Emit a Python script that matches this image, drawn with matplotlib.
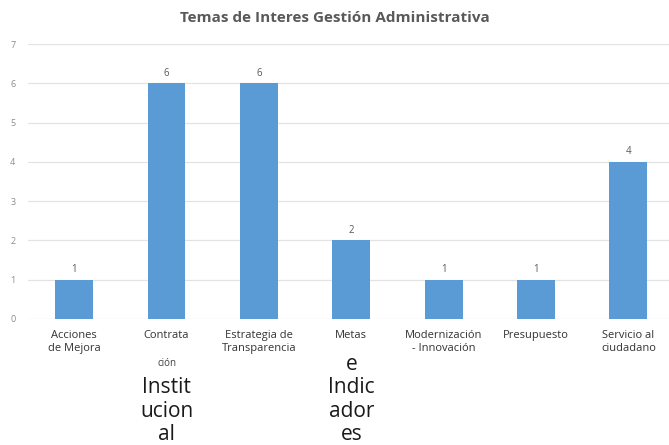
import matplotlib.pyplot as plt

categorias = ['Acciones\nde Mejora', 'Contrata', 'Estrategia de\nTransparencia', 'Metas',
              'Modernización\n- Innovación', 'Presupuesto', 'Servicio al\nciudadano']
valores = [1, 6, 6, 2, 1, 1, 4]
titulo = 'Temas de Interes Gestión Administrativa'

plt.rcParams['font.family'] = ['Open Sans', 'DejaVu Sans']

fig = plt.figure(figsize=(6.69, 4.45), dpi=100)
ax = fig.add_axes([28 / 669, 1 - 319 / 445, 1 - 28 / 669, (319 - 44) / 445])

x = list(range(len(valores)))
ax.bar(x, valores, width=0.41, color='#5b9bd5', zorder=3)
for xi, v in zip(x, valores):
    ax.text(xi, v + 0.12, str(v), ha='center', va='bottom', fontsize=7, color='#595959')

ax.set_xlim(-0.5, 6.44)
ax.set_ylim(0, 7)
ax.set_yticks(range(8))
ax.tick_params(axis='y', length=0, labelsize=6.5, labelcolor='#8c8c8c', pad=9)
ax.set_xticks([])
ax.grid(axis='y', color='#e3e3e3', linewidth=0.9, zorder=0)
for s in ax.spines.values():
    s.set_visible(False)

# etiquetas de categoria
for xi, lab in zip(x, categorias):
    ax.annotate(lab, xy=(xi, 0), xycoords=('data', 'axes fraction'),
                xytext=(0, -8), textcoords='offset points',
                ha='center', va='top', fontsize=8, color='#333333', linespacing=1.2)

ax.annotate('ción', xy=(1, 0), xycoords=('data', 'axes fraction'),
            xytext=(0, -28), textcoords='offset points',
            ha='center', va='top', fontsize=7, color='#404040')
ax.annotate('Instit\nucion\nal', xy=(1, 0), xycoords=('data', 'axes fraction'),
            xytext=(0, -42), textcoords='offset points',
            ha='center', va='top', fontsize=15, color='#1a1a1a', linespacing=1.15)
ax.annotate('e\nIndic\nador\nes', xy=(3, 0), xycoords=('data', 'axes fraction'),
            xytext=(0, -25), textcoords='offset points',
            ha='center', va='top', fontsize=15, color='#1a1a1a', linespacing=1.15)

fig.text(0.5, 1 - 18 / 445, titulo, ha='center', va='center', fontsize=11,
         fontweight='bold', color='#595959')

fig.savefig('out.png', dpi=100)
